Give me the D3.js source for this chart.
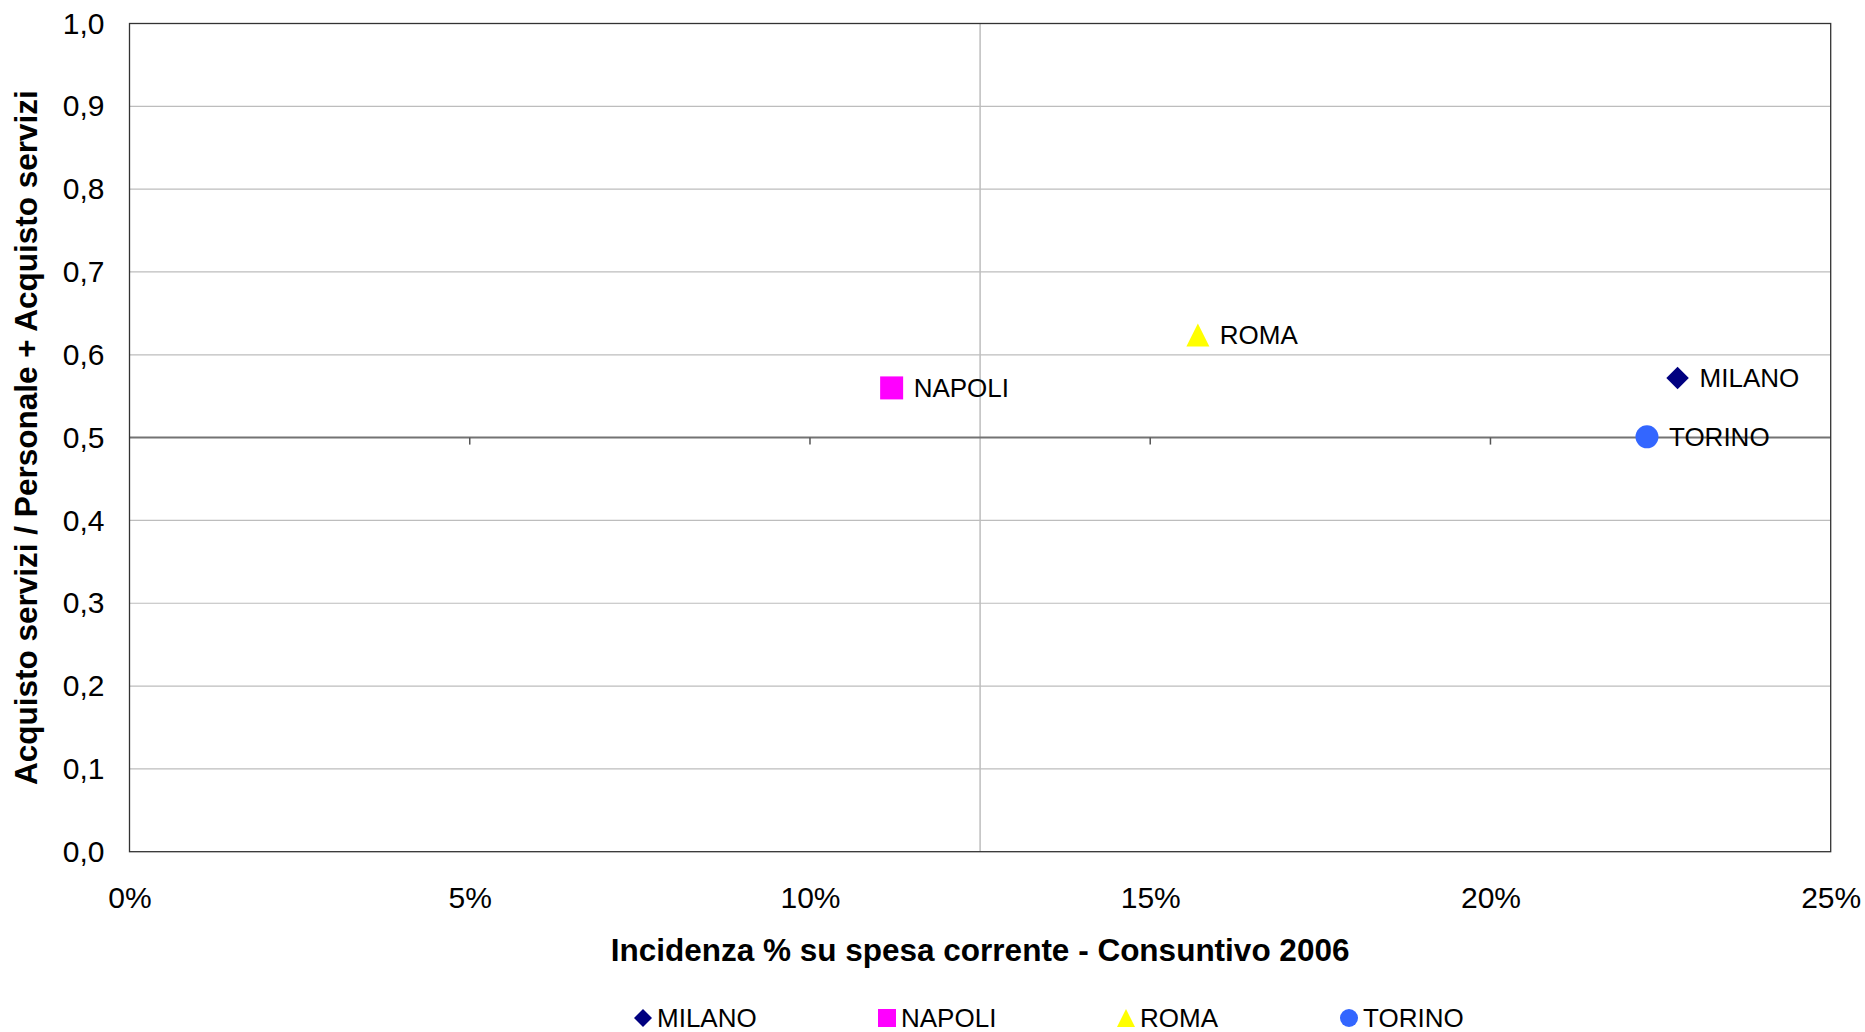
<!DOCTYPE html>
<html>
<head>
<meta charset="utf-8">
<script src="https://cdn.jsdelivr.net/npm/d3@7"></script>
<style>
  html, body { margin: 0; padding: 0; background: #fff; }
  svg { display: block; }
  text { font-family: "Liberation Sans", Arial, sans-serif; fill: #000; }
</style>
</head>
<body>
<svg id="chart" width="1865" height="1032"></svg>
<script>
// ---- data ----
const categories = ["MILANO", "NAPOLI", "ROMA", "TORINO"];
const xValues = [0.2275, 0.112, 0.157, 0.223];
const yValues = [0.572, 0.560, 0.624, 0.501];
const colors = ["#000080", "#FF00FF", "#FFFF00", "#3366FF"];
const shapes = ["diamond", "square", "triangle", "circle"];
const xTicks = [0, 0.05, 0.10, 0.15, 0.20, 0.25];
const yTicks = [0, 0.1, 0.2, 0.3, 0.4, 0.5, 0.6, 0.7, 0.8, 0.9, 1.0];
const xCross = 0.125;
const yCross = 0.5;
const xTitle = "Incidenza % su spesa corrente - Consuntivo 2006";
const yTitle = "Acquisto servizi / Personale + Acquisto servizi";

// ---- layout ----
const L = 129.5, R = 1830.7, T = 23.5, B = 851.7;
const svg = d3.select("#chart");
const x = d3.scaleLinear().domain([0, 0.25]).range([L, R]);
const y = d3.scaleLinear().domain([0, 1]).range([B, T]);

function shapePath(shape, s) {
  const h = s / 2;
  switch (shape) {
    case "diamond": return `M0,${-h}L${h},0L0,${h}L${-h},0Z`;
    case "square": return `M${-h},${-h}H${h}V${h}H${-h}Z`;
    case "triangle": return `M0,${-h}L${h},${h}L${-h},${h}Z`;
    default: return `M${h},0A${h},${h} 0 1,1 ${-h},0A${h},${h} 0 1,1 ${h},0Z`;
  }
}

// gridlines
svg.append("g").selectAll("line").data(yTicks.filter(d => d > 0 && d < 1 && d !== yCross))
  .join("line")
  .attr("x1", L).attr("x2", R)
  .attr("y1", d => y(d)).attr("y2", d => y(d))
  .attr("stroke", "#bdbdbd").attr("stroke-width", 1.2);

// vertical crossing line
svg.append("line")
  .attr("x1", x(xCross)).attr("x2", x(xCross))
  .attr("y1", T).attr("y2", B)
  .attr("stroke", "#bdbdbd").attr("stroke-width", 1.5);

// horizontal crossing axis with ticks
svg.append("line")
  .attr("x1", L).attr("x2", R)
  .attr("y1", y(yCross)).attr("y2", y(yCross))
  .attr("stroke", "#737373").attr("stroke-width", 2);
svg.append("g").selectAll("line").data(xTicks.filter(d => d > 0 && d < 0.25))
  .join("line")
  .attr("x1", d => x(d)).attr("x2", d => x(d))
  .attr("y1", y(yCross)).attr("y2", y(yCross) + 7)
  .attr("stroke", "#555").attr("stroke-width", 1.5);

// plot border
svg.append("rect")
  .attr("x", L).attr("y", T).attr("width", R - L).attr("height", B - T)
  .attr("fill", "none").attr("stroke", "#333").attr("stroke-width", 1.3);

// y axis labels
const yAxis = d3.axisLeft(y).tickValues(yTicks).tickSize(0).tickPadding(25)
  .tickFormat(d => d.toFixed(1).replace(".", ","));
const gy = svg.append("g").attr("transform", `translate(${L},0)`).call(yAxis);
gy.select(".domain").remove();
gy.selectAll("text").attr("font-size", 30).attr("font-family", "Liberation Sans, Arial, sans-serif").attr("fill", "#000");

// x axis labels
const xAxis = d3.axisBottom(x).tickValues(xTicks).tickSize(0).tickPadding(35)
  .tickFormat(d => Math.round(d * 100) + "%");
const gx = svg.append("g").attr("transform", `translate(0,${B})`).call(xAxis);
gx.select(".domain").remove();
gx.selectAll("text").attr("font-size", 30).attr("font-family", "Liberation Sans, Arial, sans-serif").attr("fill", "#000");

// axis titles
svg.append("text")
  .attr("x", (L + R) / 2).attr("y", 961)
  .attr("text-anchor", "middle")
  .attr("font-size", 31.5).attr("font-weight", "bold")
  .text(xTitle);
svg.append("text")
  .attr("transform", `translate(37,${(T + B) / 2}) rotate(-90)`)
  .attr("text-anchor", "middle")
  .attr("font-size", 31.5).attr("font-weight", "bold")
  .text(yTitle);

// points
const pts = categories.map((c, i) => ({ c, x: xValues[i], y: yValues[i], color: colors[i], shape: shapes[i] }));
const gp = svg.append("g");
gp.selectAll("path").data(pts).join("path")
  .attr("transform", d => `translate(${x(d.x)},${y(d.y)})`)
  .attr("d", d => shapePath(d.shape, d.shape === "diamond" ? 22.5 : 23))
  .attr("fill", d => d.color);
gp.selectAll("text").data(pts).join("text")
  .attr("x", d => x(d.x) + 22)
  .attr("y", d => y(d.y) + 9.3)
  .attr("font-size", 26)
  .text(d => d.c);

// legend
const legX = [643, 887, 1126, 1349];
const legY = 1018;
const gl = svg.append("g");
gl.selectAll("path").data(pts).join("path")
  .attr("transform", (d, i) => `translate(${legX[i]},${legY})`)
  .attr("d", d => shapePath(d.shape, 18))
  .attr("fill", d => d.color);
gl.selectAll("text").data(pts).join("text")
  .attr("x", (d, i) => legX[i] + 14)
  .attr("y", legY + 9.3)
  .attr("font-size", 26)
  .text(d => d.c);
</script>
</body>
</html>
